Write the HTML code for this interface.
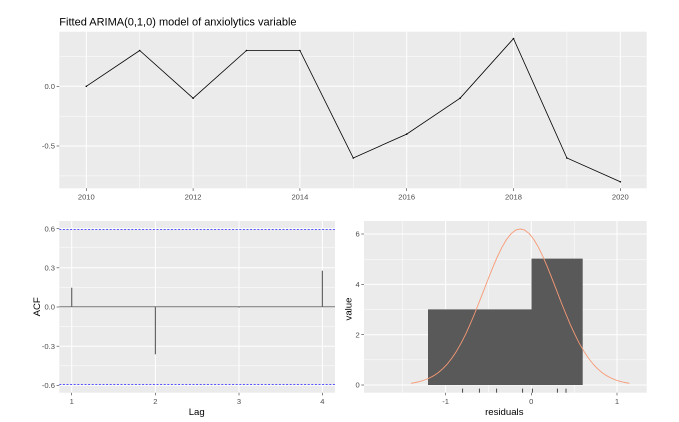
<!DOCTYPE html>
<html><head><meta charset="utf-8"><style>
html,body{margin:0;padding:0;background:#fff;}
svg{display:block;font-family:"Liberation Sans",Arial,sans-serif;}
.tk{font-size:7.6px;fill:#4d4d4d;}
.at{font-size:9.6px;fill:#000;}
</style></head><body>
<svg width="679" height="422" viewBox="0 0 679 422" xmlns="http://www.w3.org/2000/svg">
<rect width="679" height="422" fill="#fff"/>
<!-- TOP PANEL -->
<text x="59.3" y="25.5" font-size="11px" fill="#000">Fitted ARIMA(0,1,0) model of anxiolytics variable</text>
<rect x="59.3" y="31.7" width="587.4" height="156.6" fill="#ebebeb"/>
<g stroke="#fff" stroke-width="0.5">
<line x1="59.3" x2="646.7" y1="56.5" y2="56.5"/>
<line x1="59.3" x2="646.7" y1="116.2" y2="116.2"/>
<line x1="59.3" x2="646.7" y1="175.9" y2="175.9"/>
<line x1="139.7" x2="139.7" y1="31.7" y2="188.3"/>
<line x1="246.5" x2="246.5" y1="31.7" y2="188.3"/>
<line x1="353.3" x2="353.3" y1="31.7" y2="188.3"/>
<line x1="460.1" x2="460.1" y1="31.7" y2="188.3"/>
<line x1="566.9" x2="566.9" y1="31.7" y2="188.3"/>
</g>
<g stroke="#fff" stroke-width="1">
<line x1="59.3" x2="646.7" y1="86.3" y2="86.3"/>
<line x1="59.3" x2="646.7" y1="146" y2="146"/>
<line x1="86.3" x2="86.3" y1="31.7" y2="188.3"/>
<line x1="193.1" x2="193.1" y1="31.7" y2="188.3"/>
<line x1="299.9" x2="299.9" y1="31.7" y2="188.3"/>
<line x1="406.7" x2="406.7" y1="31.7" y2="188.3"/>
<line x1="513.5" x2="513.5" y1="31.7" y2="188.3"/>
<line x1="620.3" x2="620.3" y1="31.7" y2="188.3"/>
</g>
<polyline fill="none" stroke="#000" stroke-width="0.8" points="86.3,86.3 139.7,50.5 193.1,98.2 246.5,50.5 299.9,50.5 353.3,158 406.7,134.1 460.1,98.2 513.5,38.6 566.9,158 620.3,181.8"/>
<g fill="#000"><circle cx="86.3" cy="86.3" r="0.8"/><circle cx="139.7" cy="50.5" r="0.8"/><circle cx="193.1" cy="98.2" r="0.8"/><circle cx="246.5" cy="50.5" r="0.8"/><circle cx="299.9" cy="50.5" r="0.8"/><circle cx="353.3" cy="158" r="0.8"/><circle cx="406.7" cy="134.1" r="0.8"/><circle cx="460.1" cy="98.2" r="0.8"/><circle cx="513.5" cy="38.6" r="0.8"/><circle cx="566.9" cy="158" r="0.8"/><circle cx="620.3" cy="181.8" r="0.8"/></g>
<g stroke="#333" stroke-width="0.6">
<line x1="56.6" x2="59.3" y1="86.3" y2="86.3"/><line x1="56.6" x2="59.3" y1="146" y2="146"/>
<line x1="86.3" x2="86.3" y1="188.3" y2="191"/><line x1="193.1" x2="193.1" y1="188.3" y2="191"/><line x1="299.9" x2="299.9" y1="188.3" y2="191"/><line x1="406.7" x2="406.7" y1="188.3" y2="191"/><line x1="513.5" x2="513.5" y1="188.3" y2="191"/><line x1="620.3" x2="620.3" y1="188.3" y2="191"/>
</g>
<g class="tk" text-anchor="end"><text x="55" y="89">0.0</text><text x="55" y="148.7">-0.5</text></g>
<g class="tk" text-anchor="middle"><text x="86.3" y="199.5">2010</text><text x="193.1" y="199.5">2012</text><text x="299.9" y="199.5">2014</text><text x="406.7" y="199.5">2016</text><text x="513.5" y="199.5">2018</text><text x="620.3" y="199.5">2020</text></g>

<!-- BOTTOM LEFT: ACF -->
<rect x="59.3" y="221" width="275.7" height="171.7" fill="#ebebeb"/>
<g stroke="#fff" stroke-width="0.5">
<line x1="59.3" x2="335" y1="247.2" y2="247.2"/>
<line x1="59.3" x2="335" y1="287.4" y2="287.4"/>
<line x1="59.3" x2="335" y1="326.6" y2="326.6"/>
<line x1="59.3" x2="335" y1="365.8" y2="365.8"/>
</g>
<g stroke="#fff" stroke-width="1">
<line x1="59.3" x2="335" y1="228.6" y2="228.6"/>
<line x1="59.3" x2="335" y1="267.8" y2="267.8"/>
<line x1="59.3" x2="335" y1="307" y2="307"/>
<line x1="59.3" x2="335" y1="346.2" y2="346.2"/>
<line x1="59.3" x2="335" y1="385.4" y2="385.4"/>
<line x1="71.7" x2="71.7" y1="221" y2="392.7"/>
<line x1="155.4" x2="155.4" y1="221" y2="392.7"/>
<line x1="239" x2="239" y1="221" y2="392.7"/>
<line x1="322.4" x2="322.4" y1="221" y2="392.7"/>
</g>
<line x1="59.3" x2="335" y1="306.8" y2="306.8" stroke="#777" stroke-width="1"/>
<g stroke="#666" stroke-width="1.2">
<line x1="71.7" x2="71.7" y1="306.8" y2="287.7"/>
<line x1="155.4" x2="155.4" y1="306.8" y2="354.3"/>
<line x1="239" x2="239" y1="306.8" y2="307.6"/>
<line x1="322.4" x2="322.4" y1="306.8" y2="270.7"/>
</g>
<g stroke="#5555ff" stroke-width="1" stroke-dasharray="2,1.6">
<line x1="59.3" x2="335" y1="229.5" y2="229.5"/>
<line x1="59.3" x2="335" y1="384.5" y2="384.5"/>
</g>
<g stroke="#333" stroke-width="0.6">
<line x1="56.6" x2="59.3" y1="228.6" y2="228.6"/><line x1="56.6" x2="59.3" y1="267.8" y2="267.8"/><line x1="56.6" x2="59.3" y1="307" y2="307"/><line x1="56.6" x2="59.3" y1="346.2" y2="346.2"/><line x1="56.6" x2="59.3" y1="385.4" y2="385.4"/>
<line x1="71.7" x2="71.7" y1="392.7" y2="395.4"/><line x1="155.4" x2="155.4" y1="392.7" y2="395.4"/><line x1="239" x2="239" y1="392.7" y2="395.4"/><line x1="322.4" x2="322.4" y1="392.7" y2="395.4"/>
</g>
<g class="tk" text-anchor="end"><text x="55" y="231.3">0.6</text><text x="55" y="270.5">0.3</text><text x="55" y="309.7">0.0</text><text x="55" y="348.9">-0.3</text><text x="55" y="388.1">-0.6</text></g>
<g class="tk" text-anchor="middle"><text x="71.7" y="404">1</text><text x="155.4" y="404">2</text><text x="239" y="404">3</text><text x="322.4" y="404">4</text></g>
<text class="at" x="196.7" y="415" text-anchor="middle">Lag</text>
<text class="at" transform="translate(40,306.8) rotate(-90)" text-anchor="middle">ACF</text>

<!-- BOTTOM RIGHT: histogram -->
<rect x="364" y="221" width="282.7" height="171.7" fill="#ebebeb"/>
<g stroke="#fff" stroke-width="0.5">
<line x1="364" x2="646.7" y1="259.4" y2="259.4"/>
<line x1="364" x2="646.7" y1="309.6" y2="309.6"/>
<line x1="364" x2="646.7" y1="359.8" y2="359.8"/>
<line x1="402.7" x2="402.7" y1="221" y2="392.7"/>
<line x1="488.5" x2="488.5" y1="221" y2="392.7"/>
<line x1="574.2" x2="574.2" y1="221" y2="392.7"/>
</g>
<g stroke="#fff" stroke-width="1">
<line x1="364" x2="646.7" y1="234" y2="234"/>
<line x1="364" x2="646.7" y1="284.4" y2="284.4"/>
<line x1="364" x2="646.7" y1="334.7" y2="334.7"/>
<line x1="364" x2="646.7" y1="385" y2="385"/>
<line x1="445.6" x2="445.6" y1="221" y2="392.7"/>
<line x1="531.3" x2="531.3" y1="221" y2="392.7"/>
<line x1="617" x2="617" y1="221" y2="392.7"/>
</g>
<path d="M428 385 V309.4 H531.5 V258.6 H582.7 V385 Z" fill="#595959"/>
<polyline fill="none" stroke="#f79a75" stroke-width="0.9" stroke-linejoin="round" points="411,383.3 415.5,382.5 420.1,381.4 424.6,380 429.2,378.1 433.7,375.7 438.3,372.6 442.8,368.7 447.4,363.9 451.9,358.1 456.5,351.2 461,343.3 465.6,334.3 470.1,324.3 474.7,313.5 479.2,302.1 483.8,290.3 488.3,278.6 492.9,267.2 497.4,256.6 502,247.2 506.5,239.5 511.1,233.7 515.6,230.1 520.2,228.9 524.7,230.1 529.3,233.7 533.8,239.5 538.4,247.2 542.9,256.6 547.5,267.2 552,278.6 556.6,290.3 561.1,302.1 565.7,313.5 570.2,324.3 574.8,334.3 579.3,343.3 583.9,351.2 588.4,358.1 593,363.9 597.5,368.7 602.1,372.6 606.6,375.7 611.2,378.1 615.7,380 620.3,381.4 624.8,382.5 629.4,383.3"/>
<g stroke="#000" stroke-width="0.7">
<line x1="462.7" x2="462.7" y1="388.6" y2="392.7"/><line x1="479.3" x2="479.3" y1="388.6" y2="392.7"/><line x1="496.7" x2="496.7" y1="388.6" y2="392.7"/><line x1="522.7" x2="522.7" y1="388.6" y2="392.7"/><line x1="532.3" x2="532.3" y1="388.6" y2="392.7"/><line x1="557.3" x2="557.3" y1="388.6" y2="392.7"/><line x1="566" x2="566" y1="388.6" y2="392.7"/>
</g>
<g stroke="#333" stroke-width="0.6">
<line x1="361.3" x2="364" y1="234" y2="234"/><line x1="361.3" x2="364" y1="284.4" y2="284.4"/><line x1="361.3" x2="364" y1="334.7" y2="334.7"/><line x1="361.3" x2="364" y1="385" y2="385"/>
<line x1="445.6" x2="445.6" y1="392.7" y2="395.4"/><line x1="531.3" x2="531.3" y1="392.7" y2="395.4"/><line x1="617" x2="617" y1="392.7" y2="395.4"/>
</g>
<g class="tk" text-anchor="end"><text x="359.7" y="236.7">6</text><text x="359.7" y="287.1">4</text><text x="359.7" y="337.4">2</text><text x="359.7" y="387.7">0</text></g>
<g class="tk" text-anchor="middle"><text x="445.6" y="404">-1</text><text x="531.3" y="404">0</text><text x="617" y="404">1</text></g>
<text class="at" x="504.3" y="415" text-anchor="middle">residuals</text>
<text class="at" transform="translate(351.5,309) rotate(-90)" text-anchor="middle">value</text>
</svg>
</body></html>
